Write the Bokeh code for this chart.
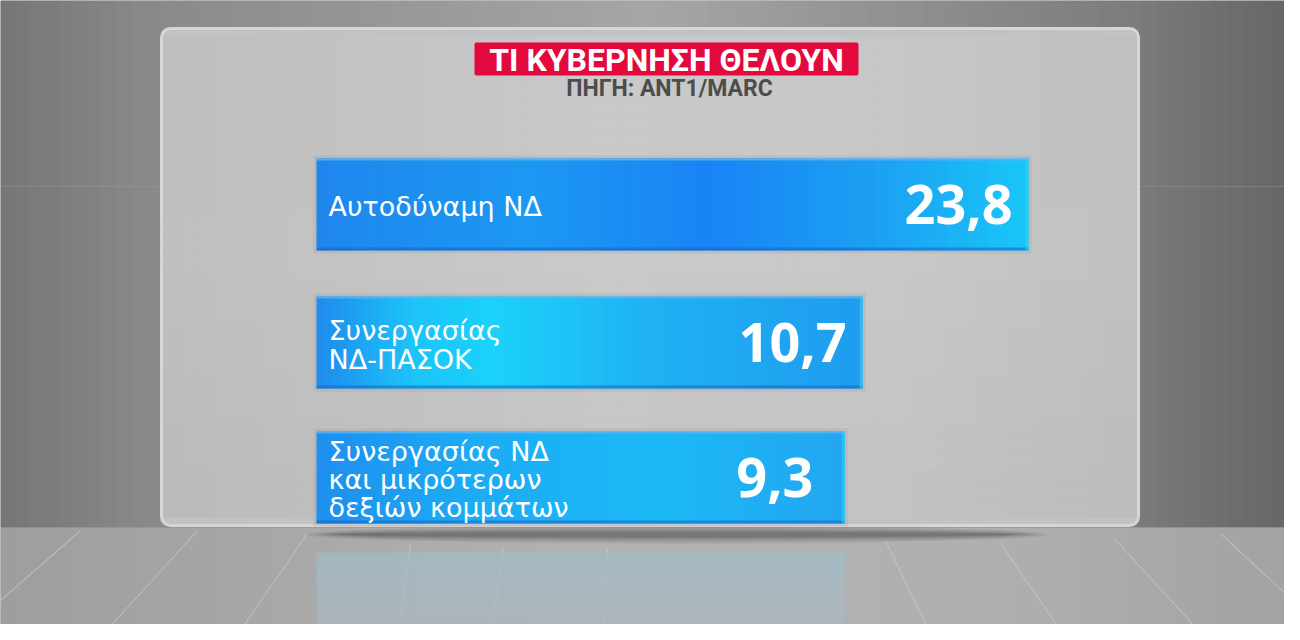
from bokeh.plotting import figure
from bokeh.models import Range1d, ColumnDataSource
from bokeh.embed import file_html
from bokeh.resources import INLINE
from bokeh.core.properties import value

# ---------------- data ----------------
title_text = "ΤΙ ΚΥΒΕΡΝΗΣΗ ΘΕΛΟΥΝ"
source_text = "ΠΗΓΗ: ANT1/MARC"
categories = ["Αυτοδύναμη ΝΔ",
              "Συνεργασίας ΝΔ-ΠΑΣΟΚ",
              "Συνεργασίας ΝΔ και μικρότερων δεξιών κομμάτων"]
label_lines = [["Αυτοδύναμη ΝΔ"],
               ["Συνεργασίας", "ΝΔ-ΠΑΣΟΚ"],
               ["Συνεργασίας ΝΔ", "και μικρότερων", "δεξιών κομμάτων"]]
values = [23.8, 10.7, 9.3]
value_labels = ["23,8", "10,7", "9,3"]

# ---------------- layout / style ----------------
W, H = 1284, 624
BAR_LEFT = 316          # screen x where every bar starts
PX_PER_UNIT = 12.67     # bar scale (graphic uses an offset base)
BASE_VALUE = -32.4
BAR_CENTERS = [204, 342, 477]
BAR_H = 92

bar_stops = [
    [(0.0, "#1f86ee"), (0.3, "#1c98f2"), (0.55, "#1984f5"), (0.8, "#1ca2f3"), (1.0, "#19c6f7")],
    [(0.0, "#1f8aee"), (0.18, "#1cc4f8"), (0.32, "#1bd2fa"), (0.6, "#1fb2f4"), (1.0, "#1f9cee")],
    [(0.0, "#1e8eee"), (0.3, "#1cacf5"), (0.65, "#1cb8f6"), (1.0, "#22a6f0")],
]


def hex2rgb(h):
    h = h.lstrip("#")
    return tuple(int(h[i:i + 2], 16) for i in (0, 2, 4))


def lerp_color(stops, t):
    for (t0, c0), (t1, c1) in zip(stops[:-1], stops[1:]):
        if t <= t1:
            f = 0 if t1 == t0 else (t - t0) / (t1 - t0)
            a, b = hex2rgb(c0), hex2rgb(c1)
            return "#%02x%02x%02x" % tuple(round(a[i] + (b[i] - a[i]) * f) for i in range(3))
    return stops[-1][1]


def h_gradient(x0, x1, y0, y1, stops, n):
    w = (x1 - x0) / n
    L, R, T, B, C = [], [], [], [], []
    for i in range(n):
        L.append(x0 + i * w)
        R.append(min(x0 + (i + 1) * w + 0.8, x1))
        T.append(y0)
        B.append(y1)
        C.append(lerp_color(stops, (i + 0.5) / n))
    return dict(left=L, right=R, top=T, bottom=B, color=C)


def v_gradient(x0, x1, y0, y1, stops, n):
    h = (y1 - y0) / n
    L, R, T, B, C = [], [], [], [], []
    for i in range(n):
        L.append(x0)
        R.append(x1)
        T.append(y0 + i * h)
        B.append(min(y0 + (i + 1) * h + 0.8, y1))
        C.append(lerp_color(stops, (i + 0.5) / n))
    return dict(left=L, right=R, top=T, bottom=B, color=C)


p = figure(width=W, height=H, output_backend="svg", toolbar_location=None,
           x_range=Range1d(0, W), y_range=Range1d(H, 0),
           min_border=0, outline_line_color=None, background_fill_color="#8a8a8a",
           border_fill_color="#8a8a8a")
p.axis.visible = False
p.grid.visible = False


def grad(d, alpha=1.0):
    p.quad(left="left", right="right", top="top", bottom="bottom", source=ColumnDataSource(d),
           fill_color="color", line_color=None, fill_alpha=alpha)


# background wall and floor
grad(h_gradient(0, 1300, 0, 527,
                [(0.0, "#767676"), (0.12, "#8a8a8a"), (0.5, "#a6a6a6"), (0.87, "#7c7c7c"), (1.0, "#646464")], 90))
grad(h_gradient(0, 1300, 527, 640,
                [(0.0, "#9e9e9e"), (0.45, "#b2b2b2"), (0.75, "#b0b0b0"), (1.0, "#a2a2a2")], 90))
# faint light line on the wall
p.segment(x0=[0, 1138], y0=[186, 186], x1=[161, 1300], y1=[186, 186],
          line_color="#a0a0a0", line_width=1.2, line_alpha=0.35)

# floor perspective lines
fl_x0 = [80, 197, 307, 410, 503, 607, 885, 1000, 1113, 1220]
fl_y0 = [530, 530, 533, 543, 547, 547, 540, 543, 537, 533]
fl_x1 = [0, 97, 233, 397, 490, 603, 933, 1067, 1207, 1300]
fl_y1 = [600, 640, 640, 640, 640, 640, 640, 640, 640, 607]
p.segment(x0=fl_x0, y0=fl_y0, x1=fl_x1, y1=fl_y1, line_color="#d0d0d0", line_width=1.1, line_alpha=0.55)

# panel shadow on the floor
for i, a in enumerate([0.10, 0.12, 0.16, 0.22]):
    p.ellipse(x=[676], y=[534], width=[740 - i * 20], height=[18 - i * 4],
              fill_color="#3a3a3a", fill_alpha=a, line_color=None)

# reflection of the last bar
refl_right = BAR_LEFT + PX_PER_UNIT * (values[2] - BASE_VALUE)
grad(v_gradient(BAR_LEFT, refl_right, 552, 640,
                [(0.0, "#a0bccb"), (1.0, "#aeb6ba")], 20), alpha=0.7)

# glass panel
p.quad(left=[161], right=[1138], top=[28], bottom=[525], fill_color="#c2c2c2",
       line_color=None, border_radius=9)
grad(h_gradient(163, 1136, 36, 517,
                [(0.0, "#bbbbbb"), (0.45, "#cbcbcb"), (0.75, "#c8c8c8"), (1.0, "#bdbdbd")], 60))
grad(v_gradient(163, 1136, 36, 517, [(0.0, "#c6c6c6"), (0.5, "#c8c8c8"), (1.0, "#b8b8b8")], 30), alpha=0.35)
p.quad(left=[161], right=[1138], top=[28], bottom=[525], fill_color=None,
       line_color="#d6d6d6", line_width=3, border_radius=9)

# title
p.quad(left=[474], right=[858], top=[42], bottom=[75], fill_color="#e3093d", line_color=None,
       border_radius=2)
p.text(x=[666], y=[59.5], text=[title_text], text_align="center", text_baseline="middle",
       text_font=value("Roboto"), text_font_style="bold", text_font_size="32px", text_color="white")
p.text(x=[669], y=[88], text=[source_text], text_align="center", text_baseline="middle",
       text_font=value("Roboto"), text_font_style="bold", text_font_size="23px", text_color="#4c4c4c")

# bars
lx, ly, lt = [], [], []
vx, vy, vt = [], [], []
for k, v in enumerate(values):
    right = BAR_LEFT + PX_PER_UNIT * (v - BASE_VALUE)
    top = BAR_CENTERS[k] - BAR_H / 2
    bottom = BAR_CENTERS[k] + BAR_H / 2
    # soft halo
    p.quad(left=[BAR_LEFT - 3], right=[right + 3], top=[top - 3], bottom=[bottom + 3],
           fill_color="#9a9a9a", fill_alpha=0.25, line_color=None)
    grad(h_gradient(BAR_LEFT, right, top, bottom, bar_stops[k], 70))
    # top highlight, bottom edge, right side
    p.quad(left=[BAR_LEFT], right=[right], top=[top], bottom=[top + 2],
           fill_color="#5cb6f4", line_color=None, fill_alpha=0.8)
    p.quad(left=[BAR_LEFT], right=[right], top=[bottom - 3], bottom=[bottom],
           fill_color="#1462c4", line_color=None, fill_alpha=0.55)
    p.quad(left=[right - 3], right=[right], top=[top], bottom=[bottom],
           fill_color="#2fd2fa", line_color=None, fill_alpha=0.6)
    n = len(label_lines[k])
    spacing = 29 if n < 3 else 28
    for i, line in enumerate(label_lines[k]):
        lx.append(BAR_LEFT + 12)
        ly.append(BAR_CENTERS[k] + 2 + (i - (n - 1) / 2) * spacing)
        lt.append(line)
    vx.append(right - 70)
    vy.append(BAR_CENTERS[k])
    vt.append(value_labels[k])

p.text(x=lx, y=ly, text=lt, text_align="left", text_baseline="middle",
       text_font=value("DejaVu Sans"), text_font_size="27px", text_color="white")
p.text(x=vx, y=vy, text=vt, text_align="center", text_baseline="middle",
       text_font=value("Noto Sans"), text_font_style="bold", text_font_size="54px", text_color="white")

open("out.html", "w").write(file_html(p, INLINE))
